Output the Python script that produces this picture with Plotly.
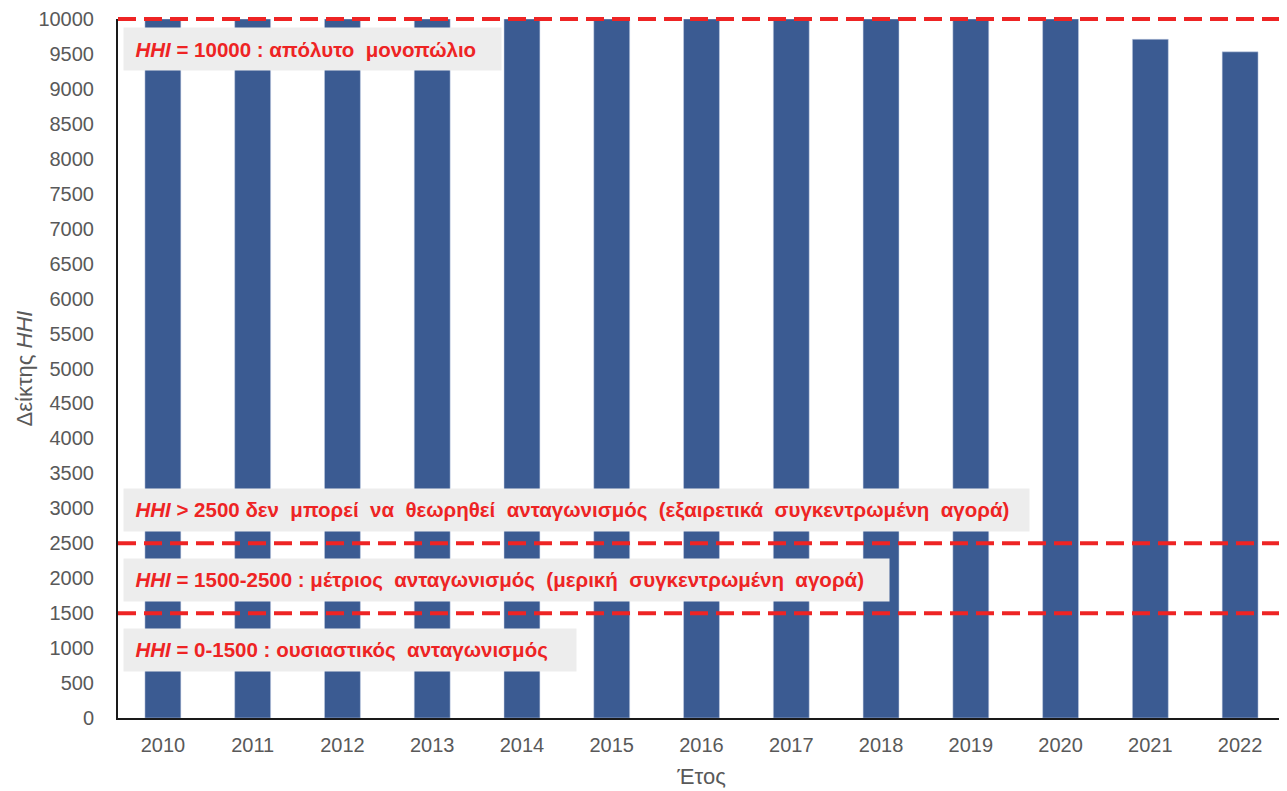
import plotly.graph_objects as go

years = ["2010", "2011", "2012", "2013", "2014", "2015", "2016", "2017", "2018", "2019", "2020", "2021", "2022"]
hhi = [10000, 10000, 10000, 10000, 10000, 10000, 10000, 10000, 10000, 10000, 10000, 9710, 9530]

YMAX = 10000
thresholds = [10000, 2500, 1500]
labels = [
    "<i>HHI</i> = 10000 : απόλυτο  μονοπώλιο",
    "<i>HHI</i> > 2500 δεν  μπορεί  να  θεωρηθεί  ανταγωνισμός  (εξαιρετικά  συγκεντρωμένη  αγορά)",
    "<i>HHI</i> = 1500-2500 : μέτριος  ανταγωνισμός  (μερική  συγκεντρωμένη  αγορά)",
    "<i>HHI</i> = 0-1500 : ουσιαστικός  ανταγωνισμός",
]
label_y = [9570, 2975, 1975, 975]
label_w = [377, 905, 765, 452]

FONT = "Liberation Sans Narrow, Arial Narrow, Liberation Sans, Arial, sans-serif"

fig = go.Figure()
fig.add_trace(go.Bar(
    x=years, y=hhi, width=0.4,
    marker=dict(color="#3B5B92", line=dict(color="#C9D3E6", width=0.5)),
))

# threshold lines (paper-referenced so the top one is not clipped by the plot area)
for t in thresholds:
    fig.add_shape(type="line", xref="paper", yref="paper", x0=0, x1=1.01,
                  y0=t / YMAX, y1=t / YMAX,
                  line=dict(color="#EE2424", width=4, dash="18px,8px"), layer="above")

for txt, yv, w in zip(labels, label_y, label_w):
    fig.add_annotation(
        xref="paper", yref="y", x=0.004, y=yv, xanchor="left", yanchor="middle",
        text="&nbsp;&nbsp;" + txt.replace("  ", " &nbsp;"), showarrow=False, align="left",
        width=w, height=42, bgcolor="#EDEDED", borderpad=0,
        font=dict(family=FONT, size=20.5, color="#EE2424", weight="bold"),
    )

fig.update_layout(
    width=1287, height=791,
    margin=dict(l=110, r=10, t=11, b=81),
    plot_bgcolor="white", paper_bgcolor="white",
    showlegend=False, bargap=0.6,
    font=dict(family="Liberation Sans, Arial, sans-serif", color="#595959", size=20),
    xaxis=dict(
        showline=True, linecolor="#1A1A1A", linewidth=2, ticks="", automargin=False,
        tickfont=dict(size=20, color="#595959"), ticklabelstandoff=8,
        title=dict(text="Έτος", font=dict(size=22, color="#595959"), standoff=14),
    ),
    yaxis=dict(
        range=[0, YMAX], tickmode="linear", tick0=0, dtick=500, tickformat="d",
        showgrid=False, zeroline=False, automargin=False,
        showline=True, linecolor="#1A1A1A", linewidth=2, ticks="",
        tickfont=dict(size=20, color="#595959"), ticklabelstandoff=18,
        title=dict(text="Δείκτης <i>HHI</i>", font=dict(size=22, color="#595959"), standoff=0),
    ),
)

fig.write_html("out.html")
